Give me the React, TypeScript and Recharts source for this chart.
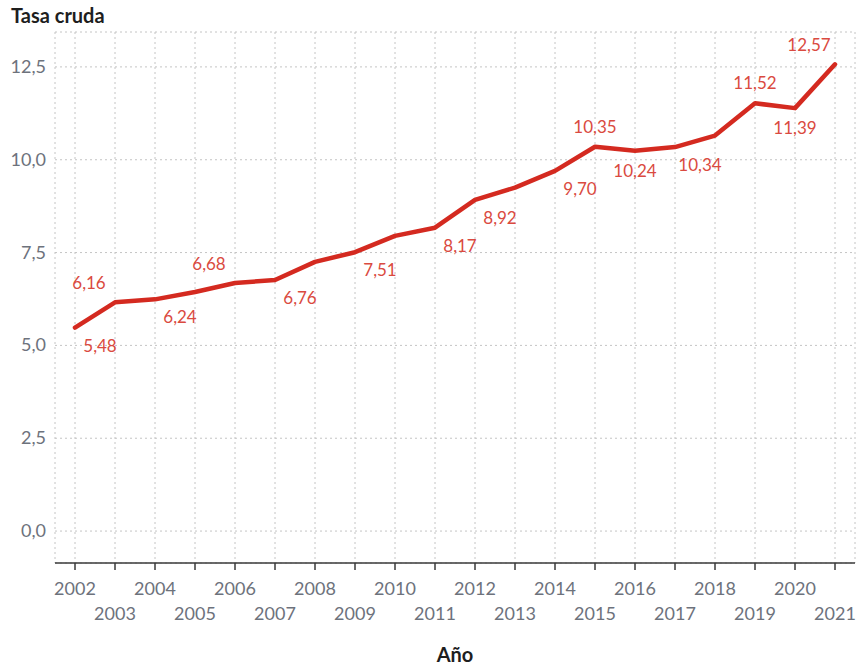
import { CartesianGrid, Line, LineChart, XAxis, YAxis } from "recharts";

const YEARS = [
  2002, 2003, 2004, 2005, 2006, 2007, 2008, 2009, 2010, 2011,
  2012, 2013, 2014, 2015, 2016, 2017, 2018, 2019, 2020, 2021,
];
const RATES = [
  5.48, 6.16, 6.24, 6.44, 6.68, 6.76, 7.25, 7.51, 7.95, 8.17,
  8.92, 9.25, 9.7, 10.35, 10.24, 10.34, 10.65, 11.52, 11.39, 12.57,
];
// where each value label sits relative to its point (null = no label)
const LABEL_SPOTS: (string | null)[] = [
  "br", "al", "br", null, "al", "br", null, "br", null, "br",
  "br", null, "br", "a", "b", "br", null, "a", "b", "al",
];
const Y_TICKS = [0, 2.5, 5, 7.5, 10, 12.5];

const data = YEARS.map((year, i) => ({ year, rate: RATES[i], spot: LABEL_SPOTS[i] }));

const FONT = "Lato, 'Open Sans', sans-serif";
const RED = "#d42a20";
const LABEL_RED = "#da4a40";
const GRAY = "#6d727c";

const fmt = (v: number, digits: number) => v.toFixed(digits).replace(".", ",");

const SPOT_OFFSETS: Record<string, [number, number]> = {
  br: [25, 24],
  al: [-26, -13],
  a: [0, -14],
  b: [0, 26],
};

function ValueLabel(props: any) {
  const { x, y, index } = props;
  const spot = LABEL_SPOTS[index];
  if (!spot) return null;
  const [dx, dy] = SPOT_OFFSETS[spot];
  return (
    <text
      x={x + dx}
      y={y + dy}
      textAnchor="middle"
      fontFamily={FONT}
      fontSize={17}
      fill={LABEL_RED}
    >
      {fmt(RATES[index], 2)}
    </text>
  );
}

function YearTick(props: any) {
  const { x, y, payload } = props;
  const odd = payload.value % 2 === 1;
  return (
    <text
      x={x}
      y={y + (odd ? 48 : 23)}
      textAnchor="middle"
      fontFamily={FONT}
      fontSize={18}
      fill={GRAY}
    >
      {payload.value}
    </text>
  );
}

function RateTick(props: any) {
  const { y, payload } = props;
  return (
    <text
      x={46}
      y={y + 6}
      textAnchor="end"
      fontFamily={FONT}
      fontSize={18}
      fill={GRAY}
    >
      {fmt(payload.value, 1)}
    </text>
  );
}

export default function App() {
  return (
    <div
      style={{
        position: "absolute",
        left: 0,
        top: 0,
        width: 856,
        height: 668,
        background: "#fff",
        fontFamily: FONT,
      }}
    >
      <div
        style={{
          position: "absolute",
          left: 11,
          top: 3,
          fontSize: 20,
          fontWeight: 700,
          color: "#1e1e1e",
        }}
      >
        Tasa cruda
      </div>
      <LineChart
        width={856}
        height={668}
        data={data}
        margin={{ top: 32, right: 1, bottom: 0, left: 0 }}
      >
        <CartesianGrid stroke="#c4c4c4" strokeDasharray="2 3" />
        <XAxis
          type="number"
          dataKey="year"
          domain={[2001.5, 2021.5]}
          ticks={YEARS}
          interval={0}
          height={105}
          stroke="#3a3a3a"
          tickSize={7}
          tick={<YearTick />}
          axisLine={{ stroke: "#3a3a3a", strokeWidth: 1.5 }}
          tickLine={{ stroke: "#3a3a3a", strokeWidth: 1.5 }}
        />
        <YAxis
          type="number"
          domain={[-0.86, 13.44]}
          ticks={Y_TICKS}
          width={55}
          axisLine={false}
          tickLine={false}
          tick={<RateTick />}
        />
        <Line
          type="linear"
          dataKey="rate"
          stroke={RED}
          strokeWidth={4.5}
          strokeLinejoin="round"
          strokeLinecap="round"
          dot={false}
          activeDot={false}
          label={<ValueLabel />}
          isAnimationActive={false}
        />
      </LineChart>
      <div
        style={{
          position: "absolute",
          left: 0,
          width: 910,
          top: 642,
          textAlign: "center",
          fontSize: 20,
          fontWeight: 700,
          color: "#1e1e1e",
        }}
      >
        Año
      </div>
    </div>
  );
}
